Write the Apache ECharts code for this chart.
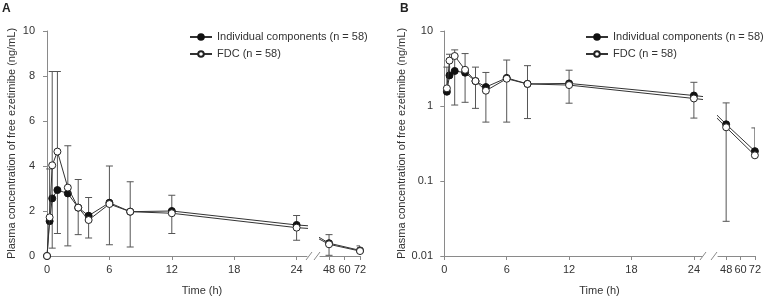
<!DOCTYPE html>
<html>
<head>
<meta charset="utf-8">
<script src="https://cdn.jsdelivr.net/npm/echarts@6.0.0/dist/echarts.min.js"></script>
<style>
html, body {margin:0; padding:0; background:#fff;}
#main {width:764px; height:298px;}
</style>
</head>
<body>
<div id="main"></div>
<script>
//采样时间(h)
var timeArr   = [0, 0.25, 0.5, 1, 2, 3, 4, 6, 8, 12, 24, 48, 72];
//平均浓度
var indMean   = [0, 1.55, 2.56, 2.93, 2.78, 2.15, 1.79, 2.37, 1.97, 2.00, 1.38, 0.57, 0.25];
var fdcMean   = [0, 1.72, 4.03, 4.64, 3.04, 2.15, 1.60, 2.31, 1.97, 1.90, 1.26, 0.52, 0.22];
//误差线端点 A 图(线性)
var errLowA   = [null, null, 0.35, 1.00, 0.45, 0.95, 0.80, 0.50, 0.40, 1.00, 0.70, 0.03, null];
var errHighA  = [null, 3.87, 8.20, 8.20, 4.90, 3.40, 2.60, 4.00, 3.30, 2.70, 1.80, 0.95, 0.45];
//误差线端点 B 图(对数)
var errLowB   = [null, null, null, 1.03, 1.12, 0.93, 0.61, 0.61, 0.68, 1.09, 0.69, 0.029, null];
var errHighB  = [null, 3.30, 4.90, 5.60, 5.00, 3.30, 2.80, 4.10, 3.45, 3.00, 2.07, 1.10, 0.51];
//刻度
var xTicksLeft  = [0, 6, 12, 18, 24];
var xTicksRight = [48, 60, 72];
var yTicksA     = [0, 2, 4, 6, 8, 10];
var yTicksB     = [0.01, 0.1, 1, 10];
var nameInd = 'Individual components (n = 58)';
var nameFdc = 'FDC (n = 58)';
var yName   = 'Plasma concentration of free ezetimibe (ng/mL)';

var fontName  = 'Liberation Sans';
var axisColor = '#8a8a8a';
var textColor = '#333';

//网格: 每个面板左段(0-24)和右段(48-72)
var grids = [
	{left: 44,  top: 31, width: 263, height: 225},
	{left: 320, top: 31, width: 40,  height: 225},
	{left: 442, top: 31, width: 260, height: 225},
	{left: 718, top: 31, width: 39,  height: 225}
];
var xRange = [[-0.29, 25], [41, 72], [-0.22, 24.78], [41.2, 72]];

var pairs = function(vals, logScale){
	var arr = [];
	for(var i = 0; i < timeArr.length; i++){
		if(logScale && !(vals[i] > 0)) continue;
		arr.push([timeArr[i], vals[i]]);
	}
	return arr;
};
var errData = function(lo, hi){
	var arr = [];
	for(var i = 0; i < timeArr.length; i++){
		if(lo[i] == null && hi[i] == null) continue;
		var mLo = Math.min(indMean[i], fdcMean[i]);
		var mHi = Math.max(indMean[i], fdcMean[i]);
		arr.push([timeArr[i], lo[i] == null ? mLo : lo[i], hi[i] == null ? mHi : hi[i], lo[i] == null ? 0 : 1, hi[i] == null ? 0 : 1]);
	}
	return arr;
};
var renderErr = function(params, api){
	var t = api.value(0);
	var p1 = api.coord([t, api.value(1)]);
	var p2 = api.coord([t, api.value(2)]);
	var w = 3.5;
	var st = {stroke: '#555', lineWidth: 1};
	var kids = [{type: 'line', shape: {x1: p1[0], y1: p1[1], x2: p2[0], y2: p2[1]}, style: st}];
	if(api.value(3)) kids.push({type: 'line', shape: {x1: p1[0]-w, y1: p1[1], x2: p1[0]+w, y2: p1[1]}, style: st});
	if(api.value(4)) kids.push({type: 'line', shape: {x1: p2[0]-w, y1: p2[1], x2: p2[0]+w, y2: p2[1]}, style: st});
	return {type: 'group', children: kids};
};

var xAxes = [], yAxes = [], series = [];
for(var g = 0; g < 4; g++){
	var isLog = g >= 2;
	var isLeft = g % 2 == 0;
	var ticks = isLeft ? xTicksLeft : xTicksRight;
	xAxes.push({
		type: 'value', gridIndex: g, min: xRange[g][0], max: xRange[g][1],
		axisLine: {lineStyle: {color: axisColor}},
		axisTick: {show: true, length: 4, customValues: ticks, lineStyle: {color: axisColor}},
		axisLabel: {customValues: ticks, margin: 8, fontSize: 11, color: textColor, fontFamily: fontName},
		splitLine: {show: false}
	});
	yAxes.push({
		type: isLog ? 'log' : 'value', logBase: 10, gridIndex: g,
		min: isLog ? 0.01 : 0, max: 10, show: isLeft,
		name: isLeft ? yName : '', nameLocation: 'middle', nameGap: 27,
		nameTextStyle: {fontSize: 11, color: textColor, fontFamily: fontName},
		axisLine: {show: true, lineStyle: {color: axisColor}},
		axisTick: {show: true, length: 4, customValues: isLog ? yTicksB : yTicksA, lineStyle: {color: axisColor}},
		axisLabel: {customValues: isLog ? yTicksB : yTicksA, margin: 9, fontSize: 11, color: textColor, fontFamily: fontName},
		splitLine: {show: false}
	});
	series.push({
		type: 'custom', xAxisIndex: g, yAxisIndex: g, clip: true, z: 1, silent: true,
		renderItem: renderErr, encode: {x: 0, y: [1, 2]},
		data: isLog ? errData(errLowB, errHighB) : errData(errLowA, errHighA)
	});
	series.push({
		name: nameInd, type: 'line', xAxisIndex: g, yAxisIndex: g, clip: true, z: 3,
		symbol: 'circle', symbolSize: 7, animation: false,
		lineStyle: {color: '#333', width: 1},
		itemStyle: {color: '#111', borderColor: '#111', borderWidth: 1},
		data: pairs(indMean, isLog)
	});
	series.push({
		name: nameFdc, type: 'line', xAxisIndex: g, yAxisIndex: g, clip: true, z: 4,
		symbol: 'circle', symbolSize: 7, animation: false,
		lineStyle: {color: '#333', width: 1},
		itemStyle: {color: '#fff', borderColor: '#222', borderWidth: 1},
		data: pairs(fdcMean, isLog)
	});
}

//断轴标记和文字
var graphics = [];
var axisY = grids[0].top + grids[0].height;
var slash = function(x){
	return {type: 'line', shape: {x1: x - 3, y1: axisY + 4, x2: x + 3, y2: axisY - 4}, style: {stroke: axisColor, lineWidth: 1}};
};
graphics.push(slash(grids[0].left + grids[0].width + 2), slash(grids[1].left - 3));
graphics.push(slash(grids[2].left + grids[2].width + 1), slash(grids[3].left - 4));
graphics.push({type: 'text', left: 2, top: 3, style: {text: 'A', font: 'bold 12px ' + fontName, fill: '#222'}});
graphics.push({type: 'text', left: 400, top: 3, style: {text: 'B', font: 'bold 12px ' + fontName, fill: '#222'}});
var xNameA = (grids[0].left + grids[1].left + grids[1].width) / 2;
var xNameB = (grids[2].left + grids[3].left + grids[3].width) / 2;
graphics.push({type: 'text', x: xNameA, y: 291, style: {text: 'Time (h)', font: '11px ' + fontName, fill: textColor, align: 'center', verticalAlign: 'middle'}});
graphics.push({type: 'text', x: xNameB, y: 291, style: {text: 'Time (h)', font: '11px ' + fontName, fill: textColor, align: 'center', verticalAlign: 'middle'}});

var legendBase = {
	orient: 'vertical', itemWidth: 22, itemHeight: 7, itemGap: 3, padding: 0, selectedMode: false,
	textStyle: {fontSize: 11, color: textColor, fontFamily: fontName, lineHeight: 14},
	data: [nameInd, nameFdc]
};
var legA = Object.assign({}, legendBase, {left: 189, top: 30});
var legB = Object.assign({}, legendBase, {left: 585, top: 30});

var myChart = echarts.init(document.getElementById('main'));
myChart.setOption({
	animation: false,
	grid: grids,
	xAxis: xAxes,
	yAxis: yAxes,
	legend: [legA, legB],
	graphic: graphics,
	series: series
});
</script>
</body>
</html>
